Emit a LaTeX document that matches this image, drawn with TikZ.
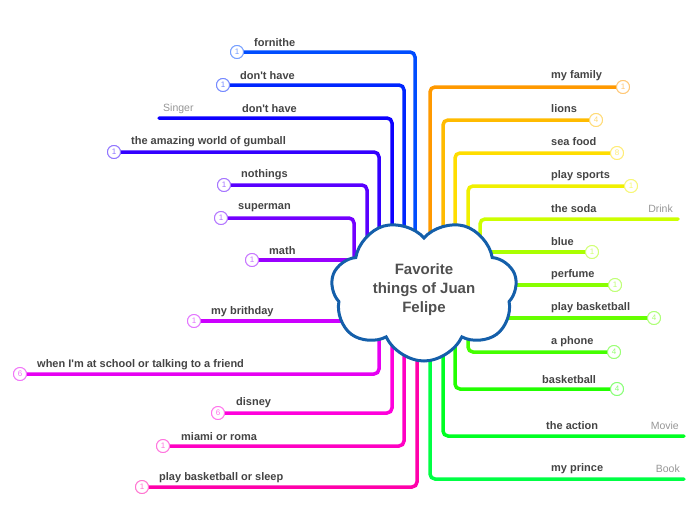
\documentclass[tikz,border=0pt]{standalone}
\usepackage{fontspec}
\setmainfont{Liberation Sans}
\usetikzlibrary{shapes.symbols}
\definecolor{cloudblue}{RGB}{20,95,170}
\definecolor{titlegray}{RGB}{80,80,80}
\definecolor{labelgray}{RGB}{68,68,68}
\definecolor{notegray}{RGB}{150,150,150}
\definecolor{brA}{RGB}{0,77,255}
\definecolor{brB}{RGB}{0,38,255}
\definecolor{brC}{RGB}{13,0,255}
\definecolor{brD}{RGB}{51,0,255}
\definecolor{brE}{RGB}{89,0,255}
\definecolor{brF}{RGB}{115,0,255}
\definecolor{brG}{RGB}{153,0,255}
\definecolor{brH}{RGB}{204,0,255}
\definecolor{brI}{RGB}{230,0,242}
\definecolor{brJ}{RGB}{255,0,220}
\definecolor{brK}{RGB}{255,0,195}
\definecolor{brL}{RGB}{255,0,170}
\definecolor{brM}{RGB}{255,153,0}
\definecolor{brN}{RGB}{255,187,0}
\definecolor{brO}{RGB}{255,221,0}
\definecolor{brP}{RGB}{240,240,0}
\definecolor{brQ}{RGB}{204,255,0}
\definecolor{brR}{RGB}{170,255,0}
\definecolor{brS}{RGB}{136,255,0}
\definecolor{brT}{RGB}{102,255,0}
\definecolor{brU}{RGB}{68,255,0}
\definecolor{brV}{RGB}{34,255,0}
\definecolor{brW}{RGB}{0,255,34}
\definecolor{brX}{RGB}{0,255,68}
\tikzset{
  branch/.style={line width=3.5pt, rounded corners=5pt, line cap=round, draw=#1},
  numdot/.style={circle, draw=#1!55!white, fill=white, line width=0.9pt,
    inner sep=0pt, minimum size=13pt, text=#1!55!white,
    font=\fontsize{8}{8}\selectfont},
  leaf/.style={font=\bfseries\fontsize{11}{13}\selectfont, text=labelgray,
    anchor=west, inner sep=0pt, yshift=-1.5pt},
  note/.style={font=\fontsize{10.5}{12}\selectfont, text=notegray, inner sep=0pt},
  puffy/.style={cloud, cloud puffs=7, cloud puff arc=130, draw=cloudblue,
    fill=white, line width=3pt, aspect=1.4, minimum width=186pt,
    minimum height=142pt, transform shape, yscale=-1},
  topic/.style={align=center, text=titlegray,
    font=\bfseries\fontsize{15}{19}\selectfont}
}
\begin{document}
\begin{tikzpicture}[x=1pt, y=-1pt]
  \useasboundingbox (0,0) rectangle (697,520);
  \coordinate (hub) at (424,290);

  % Left side, upper branches
  \node[numdot=brA] (n01) at (237,52) {1};
  \node[numdot=brB] (n02) at (223,85) {1};
  \coordinate (e03) at (159,118);
  \node[numdot=brD] (n04) at (114,152) {1};
  \node[numdot=brE] (n05) at (224,185) {1};
  \node[numdot=brF] (n06) at (221,218) {1};
  \node[numdot=brG] (n07) at (252,260) {1};
  % Left side, lower branches
  \node[numdot=brH] (n08) at (194,321) {1};
  \node[numdot=brI] (n09) at (20,374) {6};
  \node[numdot=brJ] (n10) at (218,413) {6};
  \node[numdot=brK] (n11) at (163,446) {1};
  \node[numdot=brL] (n12) at (142,487) {1};
  % Right side, upper branches
  \node[numdot=brM] (n13) at (623,87) {1};
  \node[numdot=brN] (n14) at (596,120) {4};
  \node[numdot=brO] (n15) at (617,153) {8};
  \node[numdot=brP] (n16) at (631,186) {1};
  \coordinate (e17) at (678,219);
  \node[numdot=brR] (n18) at (592,252) {1};
  \node[numdot=brS] (n19) at (615,285) {1};
  \node[numdot=brT] (n20) at (654,318) {4};
  % Right side, lower branches
  \node[numdot=brU] (n21) at (614,352) {4};
  \node[numdot=brV] (n22) at (617,389) {4};
  \coordinate (e23) at (684,436);
  \coordinate (e24) at (684,479);

  % Branch lines
  \draw[branch=brA] ([xshift=-9pt]hub) |- (n01);
  \draw[branch=brB] ([xshift=-20pt]hub) |- (n02);
  \draw[branch=brC] ([xshift=-32pt]hub) |- (e03);
  \draw[branch=brD] ([xshift=-45pt]hub) |- (n04);
  \draw[branch=brE] ([xshift=-57pt]hub) |- (n05);
  \draw[branch=brF] ([xshift=-70pt]hub) |- (n06);
  \draw[branch=brG] (hub |- n07) -- (n07);
  \draw[branch=brH] (hub |- n08) -- (n08);
  \draw[branch=brI] ([xshift=-45pt]hub) |- (n09);
  \draw[branch=brJ] ([xshift=-32pt]hub) |- (n10);
  \draw[branch=brK] ([xshift=-20pt]hub) |- (n11);
  \draw[branch=brL] ([xshift=-7pt]hub) |- (n12);
  \draw[branch=brM] ([xshift=6pt]hub) |- (n13);
  \draw[branch=brN] ([xshift=19pt]hub) |- (n14);
  \draw[branch=brO] ([xshift=31pt]hub) |- (n15);
  \draw[branch=brP] ([xshift=44pt]hub) |- (n16);
  \draw[branch=brQ] ([xshift=56pt]hub) |- (e17);
  \draw[branch=brR] (hub |- n18) -- (n18);
  \draw[branch=brS] (hub |- n19) -- (n19);
  \draw[branch=brT] (hub |- n20) -- (n20);
  \draw[branch=brU] ([xshift=44pt]hub) |- (n21);
  \draw[branch=brV] ([xshift=31pt]hub) |- (n22);
  \draw[branch=brW] ([xshift=19pt]hub) |- (e23);
  \draw[branch=brX] ([xshift=6pt]hub) |- (e24);

  % redraw the number circles over the lines
  \foreach \n/\c/\t in {n01/brA/1, n02/brB/1, n04/brD/1, n05/brE/1, n06/brF/1,
      n07/brG/1, n08/brH/1, n09/brI/6, n10/brJ/6, n11/brK/1, n12/brL/1,
      n13/brM/1, n14/brN/4, n15/brO/8, n16/brP/1, n18/brR/1, n19/brS/1,
      n20/brT/4, n21/brU/4, n22/brV/4}
    \node[numdot=\c] at (\n) {\t};

  % Central topic
  \node[puffy] (root) at (hub) {};
  \node[topic] (title) at (root.center) {Favorite\\things of Juan\\Felipe};

  % Labels
  \node[leaf] (l01) at (254,41) {fornithe};
  \node[leaf] (l02) at (240,74) {don\textquotesingle t have};
  \node[leaf] (l03) at (242,107) {don\textquotesingle t have};
  \node[leaf] (l04) at (131,140) {the amazing world of gumball};
  \node[leaf] (l05) at (241,173) {nothings};
  \node[leaf] (l06) at (238,206) {superman};
  \node[leaf] (l07) at (269,249) {math};
  \node[leaf] (l08) at (211,310) {my brithday};
  \node[leaf] (l09) at (37,363) {when I\textquotesingle m at school or talking to a friend};
  \node[leaf] (l10) at (236,401) {disney};
  \node[leaf] (l11) at (181,435) {miami or roma};
  \node[leaf] (l12) at (159,476) {play basketball or sleep};
  \node[leaf] (l13) at (551,74) {my family};
  \node[leaf] (l14) at (551,107) {lions};
  \node[leaf] (l15) at (551,140) {sea food};
  \node[leaf] (l16) at (551,174) {play sports};
  \node[leaf] (l17) at (551,207) {the soda};
  \node[leaf] (l18) at (551,240) {blue};
  \node[leaf] (l19) at (551,273) {perfume};
  \node[leaf] (l20) at (551,306) {play basketball};
  \node[leaf] (l21) at (551,340) {a phone};
  \node[leaf] (l22) at (542,378) {basketball};
  \node[leaf] (l23) at (546,424) {the action};
  \node[leaf] (l24) at (551,467) {my prince};

  % Notes on the free branches
  \node[note, anchor=west] (s03) at (163,109) {Singer};
  \node[note, anchor=east] (s17) at (673,209) {Drink};
  \node[note, anchor=east] (s23) at (679,426) {Movie};
  \node[note, anchor=east] (s24) at (680,469) {Book};
\end{tikzpicture}
\end{document}
